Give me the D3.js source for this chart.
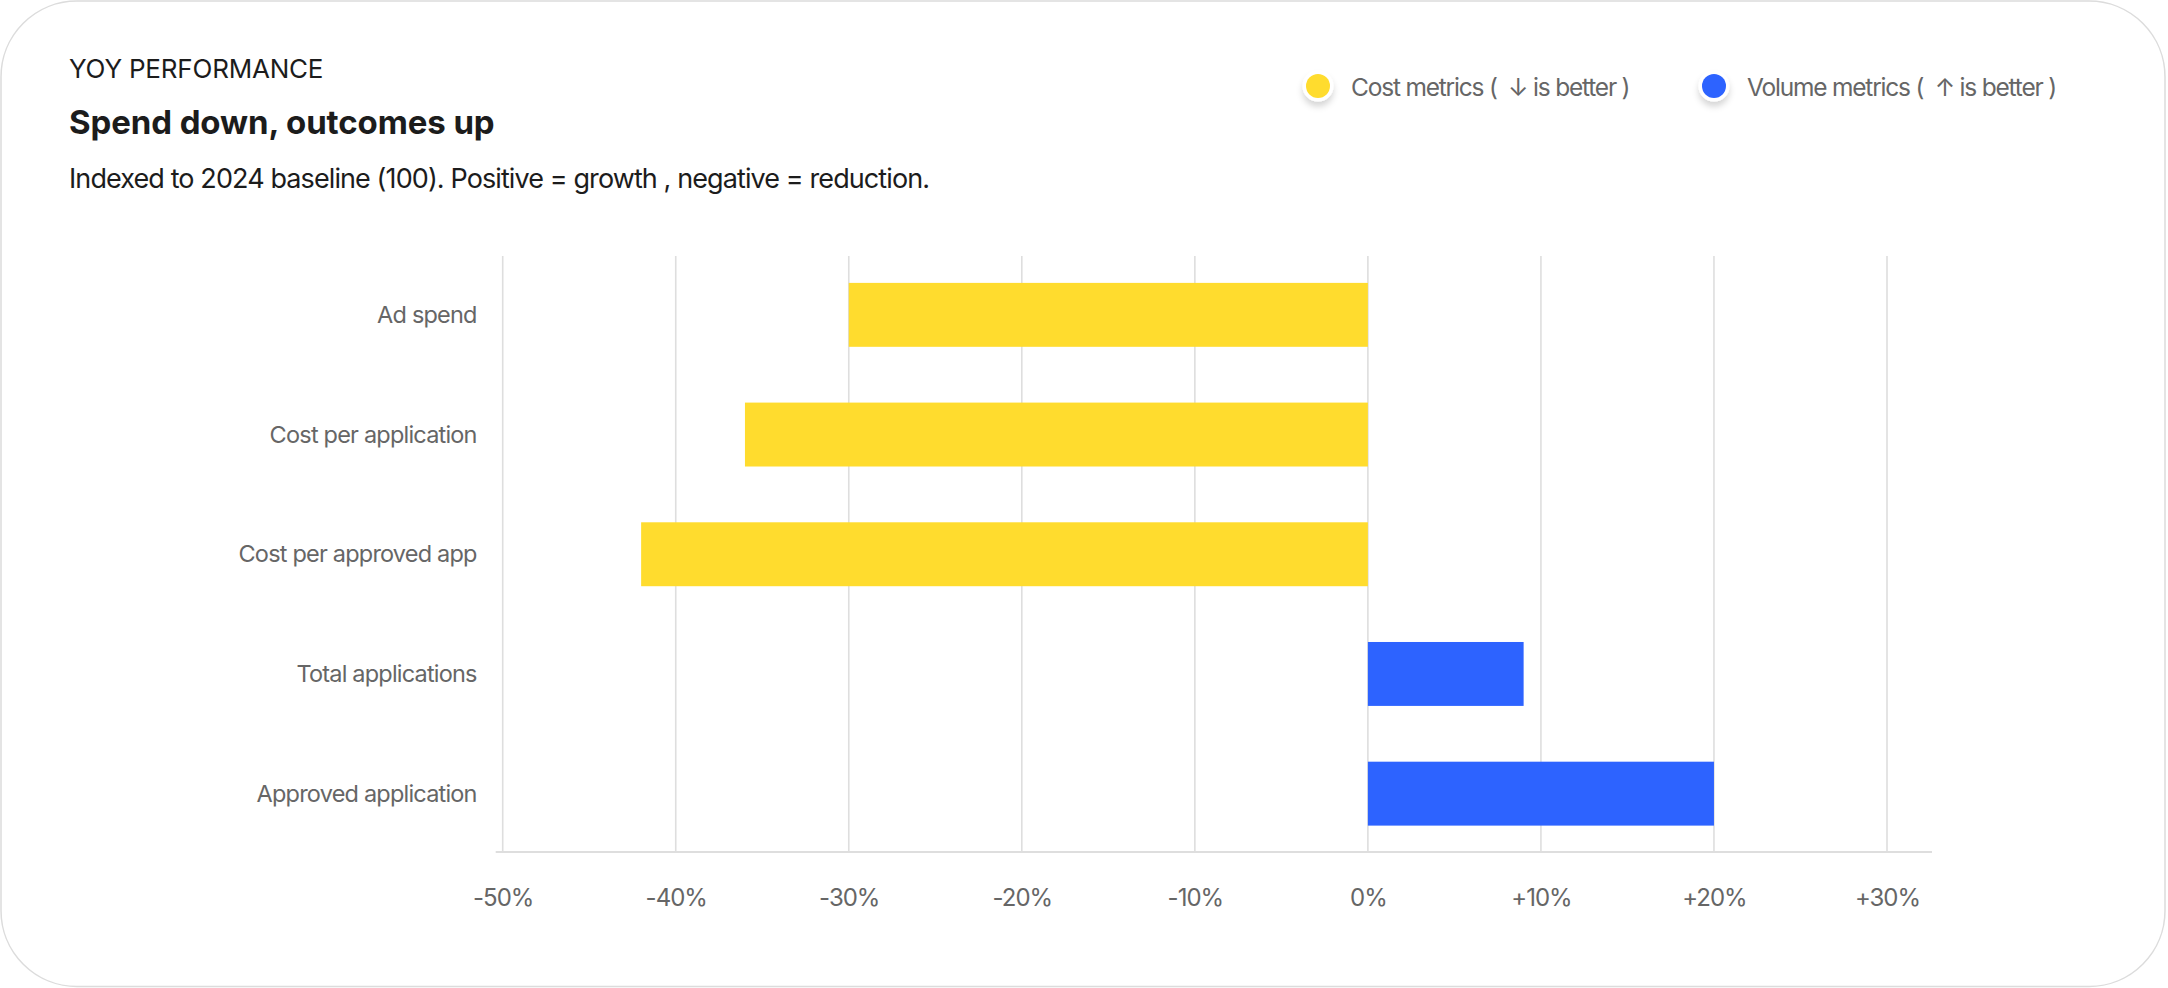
<!DOCTYPE html>
<html>
<head>
<meta charset="utf-8">
<script src="https://cdn.jsdelivr.net/npm/d3@7"></script>
<style>
  html, body { margin: 0; padding: 0; background: #fff; }
  svg { display: block; font-family: Inter, "Noto Sans", sans-serif; }
</style>
</head>
<body>
<div id="chart"></div>
<script>
// chart values
var categories = ["Ad spend", "Cost per application", "Cost per approved app", "Total applications", "Approved application"]
var values = [-30, -36, -42, 9, 20]
var groups = ["cost", "cost", "cost", "volume", "volume"]
var tickValues = [-50, -40, -30, -20, -10, 0, 10, 20, 30]
var legendLabels = ["Cost metrics (  \u2193 is better )", "Volume metrics (  \u2191 is better )"]
var legendKeys = ["cost", "volume"]

var W = 2168, H = 988
var color = d3.scaleOrdinal()
  .domain(["cost", "volume"])
  .range(["#FFDC2E", "#2D63FF"])

var svg = d3.select("#chart")
  .append("svg")
  .attr("width", W)
  .attr("height", H)

var defs = svg.append("defs")
var shadow = defs.append("filter")
  .attr("id", "dotShadow")
  .attr("x", "-50%").attr("y", "-50%")
  .attr("width", "200%").attr("height", "200%")
shadow.append("feDropShadow")
  .attr("dx", 0).attr("dy", 5)
  .attr("stdDeviation", 3)
  .attr("flood-color", "#000")
  .attr("flood-opacity", 0.16)

// card
svg.append("rect")
  .attr("x", 1).attr("y", 1)
  .attr("width", W - 4).attr("height", H - 2.5)
  .attr("rx", 76).attr("ry", 76)
  .attr("fill", "#fff")
  .attr("stroke", "#dcdcdc")
  .attr("stroke-width", 1.5)

// header
svg.append("text")
  .attr("x", 69).attr("y", 77.5)
  .attr("font-size", 26)
  .attr("letter-spacing", -0.2)
  .attr("fill", "#1c1c1c")
  .text("YOY PERFORMANCE")

svg.append("text")
  .attr("x", 69).attr("y", 134)
  .attr("font-size", 33)
  .attr("font-weight", 700)
  .attr("letter-spacing", -0.1)
  .attr("fill", "#1c1c1c")
  .text("Spend down, outcomes up")

svg.append("text")
  .attr("x", 69).attr("y", 188)
  .attr("font-size", 27)
  .attr("letter-spacing", -0.9)
  .attr("fill", "#1c1c1c")
  .text("Indexed to 2024 baseline (100). Positive = growth , negative = reduction.")

// legend
var legendX = d3.scaleOrdinal().domain(legendKeys).range([1318, 1714])
var leg = svg.append("g").selectAll("g")
  .data(legendKeys)
  .enter().append("g")
  .attr("transform", d => "translate(" + legendX(d) + ",86)")

leg.append("circle")
  .attr("r", 15.5)
  .attr("fill", "#fff")
  .attr("filter", "url(#dotShadow)")
leg.append("circle")
  .attr("r", 12)
  .attr("fill", d => color(d))
leg.append("text")
  .attr("x", 33).attr("y", 10)
  .attr("font-size", 24.5)
  .attr("letter-spacing", -1.2)
  .attr("fill", "#666")
  .style("white-space", "pre")
  .text((d, i) => legendLabels[i])

// scales
var x = d3.scaleLinear()
  .domain([-50, 30])
  .range([502.7, 1887])

var y = d3.scaleBand()
  .domain(categories)
  .range([255, 853.5])
  .paddingInner(0.466)
  .paddingOuter(0.233)

var plotTop = 256, plotBottom = 852

// gridlines
svg.append("g")
  .attr("class", "grid")
  .selectAll("line")
  .data(tickValues)
  .enter().append("line")
  .attr("x1", d => x(d)).attr("x2", d => x(d))
  .attr("y1", plotTop).attr("y2", plotBottom)
  .attr("stroke", "#dedede")
  .attr("stroke-width", 1.6)

// axis baseline
svg.append("line")
  .attr("x1", x.range()[0] - 7)
  .attr("x2", x.range()[1] + 45)
  .attr("y1", plotBottom).attr("y2", plotBottom)
  .attr("stroke", "#dedede")
  .attr("stroke-width", 2)

// x axis labels
svg.append("g")
  .attr("transform", "translate(0," + plotBottom + ")")
  .call(d3.axisBottom(x)
    .tickValues(tickValues)
    .tickSize(0)
    .tickPadding(0)
    .tickFormat(d => (d > 0 ? "+" : "") + d + "%"))
  .call(g => {
    g.select(".domain").remove()
    g.selectAll("text")
      .attr("y", 54)
      .attr("dy", null)
      .attr("fill", "#666")
      .attr("font-size", 24)
      .attr("letter-spacing", -1)
      .attr("font-family", "Inter, 'Noto Sans', sans-serif")
  })

// bars
var data = categories.map((c, i) => ({ name: c, value: values[i], group: groups[i] }))

svg.append("g")
  .selectAll("rect")
  .data(data)
  .enter().append("rect")
  .attr("x", d => x(Math.min(0, d.value)))
  .attr("width", d => Math.abs(x(d.value) - x(0)))
  .attr("y", d => y(d.name))
  .attr("height", y.bandwidth())
  .attr("fill", d => color(d.group))

// y labels
svg.append("g")
  .attr("transform", "translate(" + (x.range()[0] - 26) + ",0)")
  .call(d3.axisLeft(y).tickSize(0).tickPadding(0))
  .call(g => {
    g.select(".domain").remove()
    g.selectAll("text")
      .attr("dy", "0.34em")
      .attr("fill", "#666")
      .attr("font-size", 23.5)
      .attr("letter-spacing", -0.8)
      .attr("font-family", "Inter, 'Noto Sans', sans-serif")
  })
</script>
</body>
</html>
